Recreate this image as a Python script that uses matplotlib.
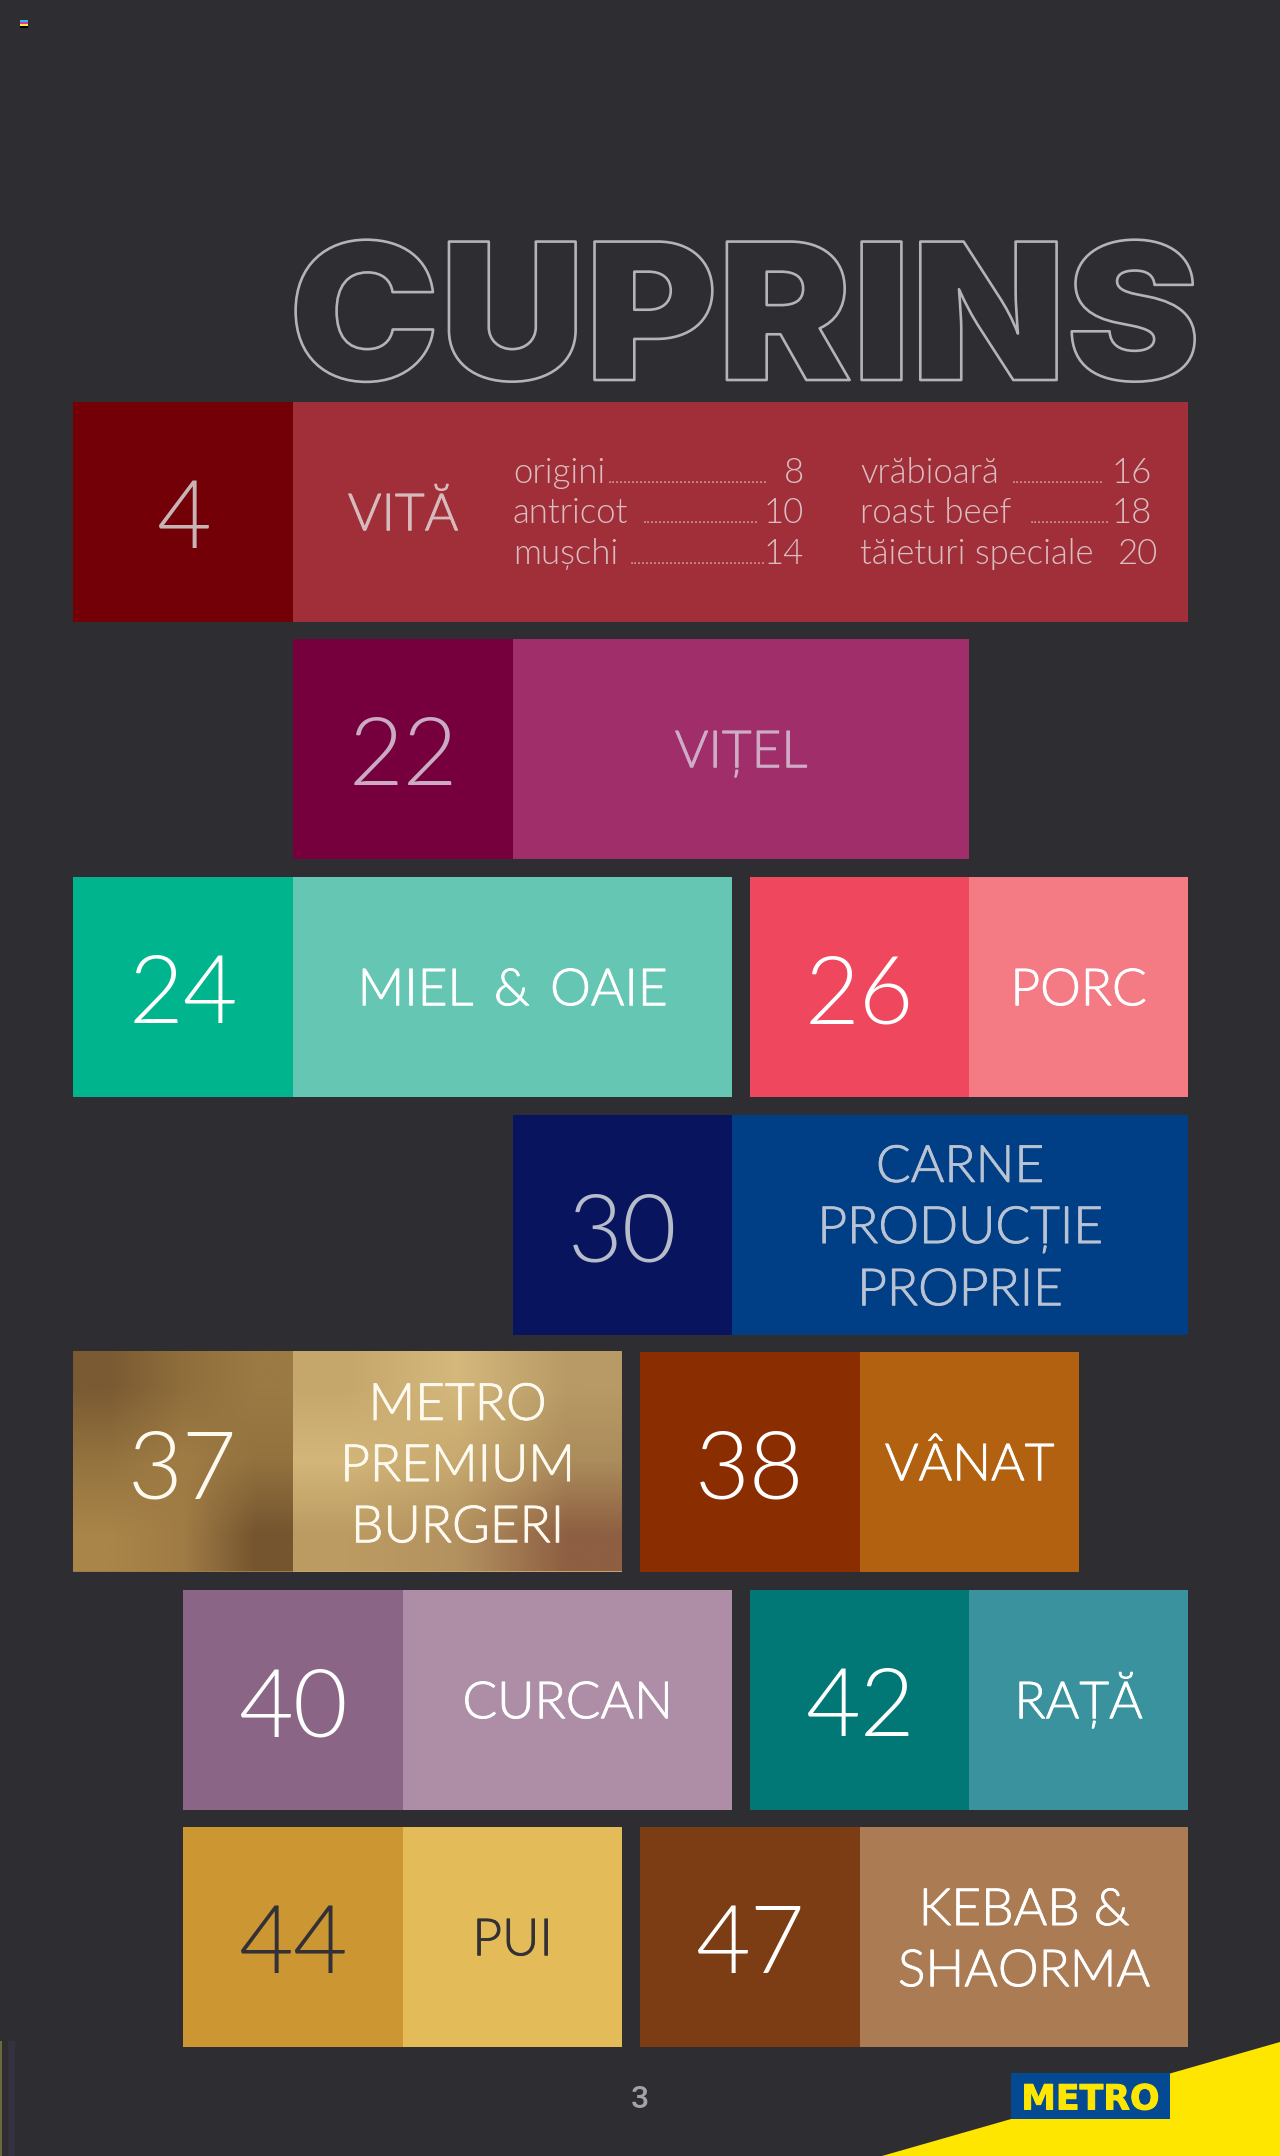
import numpy as np
import matplotlib
matplotlib.use("Agg")
import matplotlib.pyplot as plt
from matplotlib.patches import Rectangle, Polygon
from matplotlib.transforms import Affine2D
import matplotlib.patheffects as pe

# ---- content ----
pages = ["4", "22", "24", "26", "30", "37", "38", "40", "42", "44", "47"]
labels = ["VITĂ", "VIȚEL", "MIEL \u2009& \u2009OAIE", "PORC", "CARNE\nPRODUCȚIE\nPROPRIE",
          "METRO\nPREMIUM\nBURGERI", "VÂNAT", "CURCAN", "RAȚĂ", "PUI", "KEBAB &\nSHAORMA"]
number_colors = ["#730006", "#75003d", "#00b48e", "#ef475d", "#08155e", "#a07c45",
                 "#8a2d00", "#8a6585", "#017875", "#cc9733", "#7c3d14"]
label_colors = ["#a02f3a", "#a02e6b", "#65c6b4", "#f47a84", "#003f85", "#c4a46c",
                "#b26110", "#ae8ea7", "#3a929e", "#e3bb58", "#ab7b54"]
text_colors = ["#c9b3b5", "#cbaac4", "#ffffff", "#ffffff", "#b7bccb", "#fffaf0",
               "#ffffff", "#ffffff", "#ffffff", "#333136", "#ffffff"]
label_text_colors = ["#d8babd", "#cfacc6", "#ffffff", "#ffffff", "#b9c3d3", "#fffaf0",
                     "#ffffff", "#ffffff", "#ffffff", "#333136", "#ffffff"]
# sub-entries of the first tile
sub_names_left = ["origini", "antricot", "mușchi"]
sub_pages_left = ["8", "10", "14"]
sub_names_right = ["vrăbioară", "roast beef", "tăieturi speciale"]
sub_pages_right = ["16", "18", "20"]
title = "CUPRINS"
page_number = "3"
brand = "METRO"

# ---- layout (pixels) ----
tile_top = [402, 639, 877, 877, 1115, 1352, 1352, 1590, 1590, 1827, 1827]
tile_left = [73, 293, 73, 750, 513, 73, 640, 183, 750, 183, 640]
tile_mid = [293, 513, 293, 969, 732, 293, 860, 403, 969, 403, 860]
tile_right = [1188, 969, 732, 1188, 1188, 622, 1079, 732, 1188, 622, 1188]
TILE_H = 219.5
BG = "#2e2d32"
LIGHT = "Lato"


class StretchedOutline(pe.AbstractPathEffect):
    """Draw the glyphs widened about a pixel column, with an outline."""

    def __init__(self, sx, anchor, edge, lw):
        super().__init__()
        self.sx, self.anchor, self.edge, self.lw = sx, anchor, edge, lw

    def draw_path(self, renderer, gc, tpath, affine, rgbFace):
        t = affine + Affine2D().translate(-self.anchor, 0).scale(self.sx, 1).translate(self.anchor, 0)
        g = renderer.new_gc()
        g.copy_properties(gc)
        g.set_foreground(self.edge)
        g.set_linewidth(self.lw)
        renderer.draw_path(g, tpath, t, rgbFace)
        g.restore()


fig = plt.figure(figsize=(12.8, 21.56), dpi=100, facecolor=BG)
ax = fig.add_axes([0, 0, 1, 1])
ax.set_xlim(0, 1280)
ax.set_ylim(2156, 0)
ax.axis("off")

# ---- tiles ----
for i in range(len(pages)):
    top = tile_top[i]
    ax.add_patch(Rectangle((tile_left[i], top), tile_mid[i] - tile_left[i], TILE_H,
                           fc=number_colors[i], ec="none"))
    ax.add_patch(Rectangle((tile_mid[i], top), tile_right[i] - tile_mid[i], TILE_H,
                           fc=label_colors[i], ec="none"))

# gold gradient on tile 37
gold_number = ["#7a5a32", "#8f6e3c", "#9c7a44",
               "#94733f", "#a07c45", "#93723f",
               "#a98549", "#a07c45", "#75552f"]
gold_label = ["#c6a76b", "#d4b87c", "#b89a66",
              "#d2b67a", "#c8a96f", "#ab8c5b",
              "#bc9b62", "#b39260", "#8e5f42"]
def rgb(lst):
    a = [matplotlib.colors.to_rgb(c) for c in lst]
    return np.array(a).reshape(3, 3, 3)
idx = pages.index("37")
ax.imshow(rgb(gold_number), extent=(tile_left[idx], tile_mid[idx], tile_top[idx] + TILE_H, tile_top[idx]),
          aspect="auto", interpolation="bilinear", zorder=1)
ax.imshow(rgb(gold_label), extent=(tile_mid[idx], tile_right[idx], tile_top[idx] + TILE_H, tile_top[idx]),
          aspect="auto", interpolation="bilinear", zorder=1)
ax.set_xlim(0, 1280)
ax.set_ylim(2156, 0)

# ---- tile text ----
for i in range(len(pages)):
    cy = tile_top[i] + TILE_H / 2
    ax.text((tile_left[i] + tile_mid[i]) / 2, cy + 2, pages[i], family=LIGHT, weight=300,
            fontsize=68, color=text_colors[i], ha="center", va="center_baseline", zorder=3)
    if i == 0:
        lx = (tile_mid[i] + tile_mid[i] + 220) / 2
    else:
        lx = (tile_mid[i] + tile_right[i]) / 2
    n_lines = labels[i].count("\n")
    ax.text(lx, cy + 18.5 + n_lines * 31, labels[i], family=LIGHT, weight=300, fontsize=37, linespacing=1.41,
            color=label_text_colors[i], ha="center", va="baseline", zorder=3,
            multialignment="center",
            path_effects=[pe.withStroke(linewidth=0.6, foreground=label_text_colors[i])])

# ---- sub-entries ----
SUB = "#d9bdc0"
base = [483, 523, 564]
dots_x_left = [608, 643, 630]
dots_n_left = [40, 29, 34]
dots_x_right = [1012, 1030]
dots_n_right = [23, 20]
for k in range(3):
    ax.text(513, base[k], sub_names_left[k], family=LIGHT, weight=300, fontsize=25,
            color=SUB, ha="left", va="baseline", zorder=3)
    ax.text(804, base[k], sub_pages_left[k], family=LIGHT, weight=300, fontsize=25,
            color=SUB, ha="right", va="baseline", zorder=3)
    ax.text(860, base[k], sub_names_right[k], family=LIGHT, weight=300, fontsize=25,
            color=SUB, ha="left", va="baseline", zorder=3)
    ax.text(1152 if k < 2 else 1158, base[k], sub_pages_right[k], family=LIGHT, weight=300,
            fontsize=25, color=SUB, ha="right", va="baseline", zorder=3)
    ax.text(dots_x_left[k], base[k], "." * dots_n_left[k],
            family=LIGHT, weight=300, fontsize=12.5, color=SUB, ha="left", va="baseline", zorder=3)
    if k < 2:
        ax.text(dots_x_right[k], base[k], "." * dots_n_right[k], family=LIGHT, weight=300, fontsize=12.5,
                color=SUB, ha="left", va="baseline", zorder=3)

# ---- outlined title ----
ax.text(1200, 380, title, family="Inter", weight=900, fontsize=137, color=BG,
        ha="right", va="baseline", zorder=2,
        path_effects=[StretchedOutline(1.06, 1199, "#b5b3b7", 1.9)])

# ---- footer ----
ax.add_patch(Polygon([(882, 2156), (1280, 2042), (1280, 2156)], fc="#ffe600", ec="none", zorder=2))
ax.add_patch(Rectangle((1011, 2073), 159, 46, fc="#034a92", ec="none", zorder=3))
ax.text(1090.5, 2096, brand, family="DejaVu Sans", weight="bold", fontsize=25, color="#ffe600",
        ha="center", va="center_baseline", zorder=4,
        path_effects=[pe.withStroke(linewidth=0.7, foreground="#ffe600")])
ax.text(640, 2097, page_number, family="Roboto", weight=500, fontsize=23, color="#a3a2a5",
        ha="center", va="center_baseline", zorder=3)

# ---- printer's colour mark and left-edge artefacts ----
mark_colors = ["#35b6ea", "#d63a9a", "#ffec3a", "#000000"]
for k, c in enumerate(mark_colors):
    ax.add_patch(Rectangle((20, 20 + 2 * k), 8, 2, fc=c, ec="none", zorder=3))
ax.add_patch(Rectangle((0, 2041), 1.5, 115, fc="#6a6a3a", ec="none", zorder=3))
ax.add_patch(Rectangle((8, 2041), 7, 115, fc="#34323f", ec="none", zorder=1))

fig.savefig("out.png", dpi=100, facecolor=BG)
